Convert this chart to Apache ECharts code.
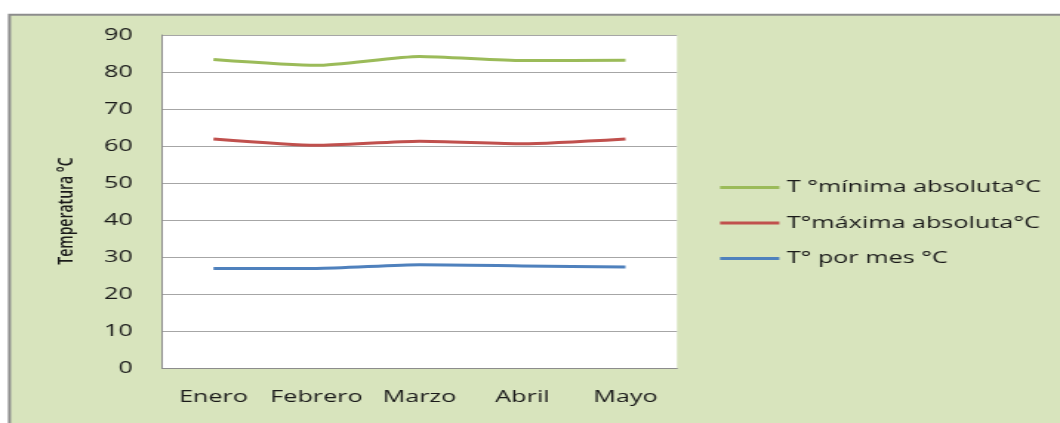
<!DOCTYPE html>
<html>
<head>
<meta charset="utf-8">
<script src="https://cdn.jsdelivr.net/npm/echarts@6/dist/echarts.min.js"></script>
<style>
html, body { margin: 0; padding: 0; background: #ffffff; overflow: hidden; }
/* el original esta estirado en horizontal, se dibuja estrecho y se escala */
#chart { width: 716px; height: 423px; transform: scaleX(1.4804); transform-origin: 0 0; }
</style>
</head>
<body>
<div id="chart"></div>
<script>
// datos
var meses = ['Enero', 'Febrero', 'Marzo', 'Abril', 'Mayo'];
var tMinimaAbs = [83.4, 81.8, 84.2, 83.1, 83.2];
var tMaximaAbs = [61.9, 60.2, 61.3, 60.6, 61.9];
var tPorMes = [26.9, 26.9, 27.9, 27.6, 27.3];
var nombres = ['T °mínima absoluta°C', 'T°máxima absoluta°C', 'T° por mes °C'];

var fuente = '"Open Sans", sans-serif';
var chart = echarts.init(document.getElementById('chart'));

function serie(nombre, datos, color) {
    return {
        name: nombre,
        type: 'line',
        data: datos,
        smooth: 0.2,
        symbol: 'none',
        lineStyle: { color: color, width: 3 },
        itemStyle: { color: color }
    };
}

var option = {
    animation: false,
    backgroundColor: '#ffffff',
    graphic: [{
        type: 'rect',
        z: -10,
        shape: { x: 6.4, y: 14.7, width: 800, height: 430 },
        style: { fill: '#d8e4bd', stroke: '#8c8c8c', lineWidth: 2 }
    }, {
        type: 'text',
        x: 45.3,
        y: 211,
        rotation: Math.PI / 2,
        style: {
            text: 'Temperatura °C',
            fontFamily: fuente, fontSize: 14, fontWeight: 600,
            fill: '#1a1a1a', align: 'center', verticalAlign: 'middle'
        }
    }],
    grid: {
        left: 109.4, right: 258.7, top: 35, bottom: 55,
        show: true, backgroundColor: '#ffffff', borderWidth: 0
    },
    legend: {
        orient: 'vertical',
        left: 486.4,
        top: 177.5,
        padding: 0,
        itemWidth: 40,
        itemHeight: 3,
        itemGap: 15.5,
        icon: 'rect',
        data: nombres,
        textStyle: { fontFamily: fuente, fontSize: 17, color: '#1a1a1a', lineHeight: 20 }
    },
    xAxis: {
        type: 'category',
        data: meses,
        boundaryGap: true,
        axisLine: { lineStyle: { color: '#8c8c8c', width: 1 } },
        axisTick: { show: false },
        axisLabel: { interval: 0, hideOverlap: false, fontFamily: fuente, fontSize: 17, color: '#1a1a1a', margin: 21 }
    },
    yAxis: {
        type: 'value',
        min: 0, max: 90, interval: 10,
        axisLine: { show: true, lineStyle: { color: '#8c8c8c', width: 1 } },
        axisTick: { show: false },
        axisLabel: { fontFamily: fuente, fontSize: 17, color: '#1a1a1a', margin: 19.6 },
        splitLine: { lineStyle: { color: '#a6a6a6', width: 1 } }
    },
    series: [
        serie(nombres[0], tMinimaAbs, '#9bbb59'),
        serie(nombres[1], tMaximaAbs, '#c0504d'),
        serie(nombres[2], tPorMes, '#4f81bd')
    ]
};
chart.setOption(option);
</script>
</body>
</html>
